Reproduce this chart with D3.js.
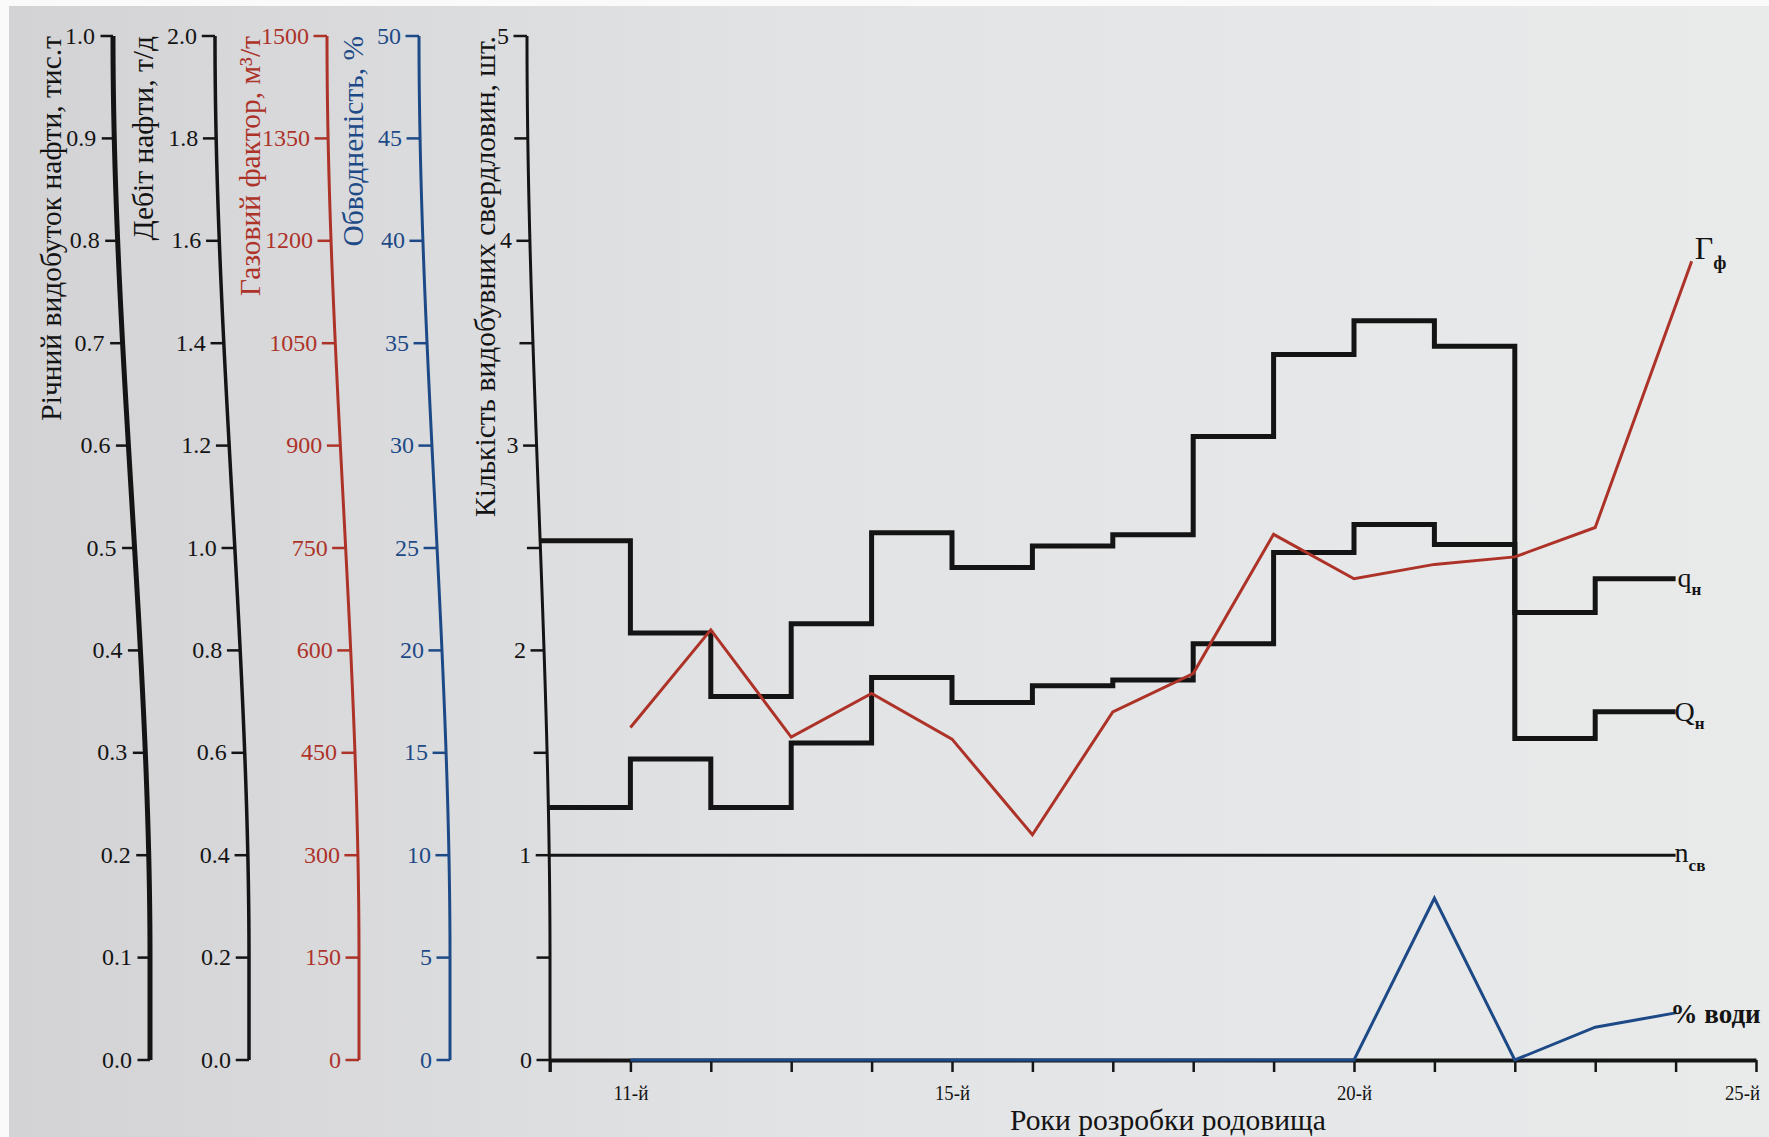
<!DOCTYPE html>
<html>
<head>
<meta charset="utf-8">
<script src="https://cdn.jsdelivr.net/npm/d3@7"></script>
<style>
    html, body { margin: 0; padding: 0; background: #fff; }
    svg { display: block; }
</style>
</head>
<body>
<div id="chart"></div>
<script>
// years of development; steps run from each start year to the next one
const stepYears = [10, 11, 12, 13, 14, 15, 16, 17, 18, 19, 20, 21, 22, 23, 24];
// annual oil production, тис.т (last value repeated to close the final step)
const oilAnnual = [0.507, 0.417, 0.355, 0.426, 0.515, 0.481, 0.502, 0.513, 0.609, 0.689, 0.722, 0.697, 0.314, 0.340, 0.340];
// oil rate, т/д
const oilRate = [0.493, 0.588, 0.493, 0.619, 0.747, 0.698, 0.731, 0.742, 0.813, 0.991, 1.046, 1.007, 0.874, 0.940, 0.940];
// gas factor, м3/т
const gasYears = [11, 12, 13, 14, 15, 16, 17, 18, 19, 20, 21, 22, 23, 24.2];
const gasFactor = [487, 630, 473, 537, 470, 330, 510, 566, 770, 705, 726, 737, 780, 1170];
// water cut, %
const waterYears = [11, 12, 13, 14, 15, 16, 17, 18, 19, 20, 21, 22, 23, 24];
const waterCut = [0, 0, 0, 0, 0, 0, 0, 0, 0, 0, 7.9, 0, 1.6, 2.3];
// number of producing wells
const wellYears = [10, 24];
const wellCount = [1, 1];

// tick labels
const annualTicks = [0, 0.1, 0.2, 0.3, 0.4, 0.5, 0.6, 0.7, 0.8, 0.9, 1.0];
const rateTicks = [0, 0.2, 0.4, 0.6, 0.8, 1.0, 1.2, 1.4, 1.6, 1.8, 2.0];
const gasTicks = [0, 150, 300, 450, 600, 750, 900, 1050, 1200, 1350, 1500];
const waterTicks = [0, 5, 10, 15, 20, 25, 30, 35, 40, 45, 50];
const wellTicks = [0, 0.5, 1, 1.5, 2, 2.5, 3, 3.5, 4, 4.5, 5];
const yearTicks = [10, 11, 12, 13, 14, 15, 16, 17, 18, 19, 20, 21, 22, 23, 24, 25];
const labelledYears = [11, 15, 20, 25];

const W = 1769, H = 1137;
const yTop = 36, yBottom = 1060;
const RED = '#ad3329', BLUE = '#1d4a86', INK = '#141414';
const SERIF = '"Liberation Serif", "DejaVu Serif", serif';

const x = d3.scaleLinear([10, 25], [550, 1756]);
const yAnnual = d3.scaleLinear([0, 1], [yBottom, yTop]);
const yRate = d3.scaleLinear([0, 2], [yBottom, yTop]);
const yGas = d3.scaleLinear([0, 1500], [yBottom, yTop]);
const yWater = d3.scaleLinear([0, 50], [yBottom, yTop]);
const yWells = d3.scaleLinear([0, 5], [yBottom, yTop]);

// the printed axes are bent (photo of a page), x0 at top, x1 at bottom
const axes = [
    {scale: yAnnual, ticks: annualTicks, fmt: d3.format('.1f'), x0: 113, x1: 150, color: INK, width: 5,
        title: 'Річний видобуток нафти, тис.т', titleX: 51},
    {scale: yRate, ticks: rateTicks, fmt: d3.format('.1f'), x0: 215, x1: 249, color: INK, width: 3.5,
        title: 'Дебіт нафти, т/д', titleX: 143},
    {scale: yGas, ticks: gasTicks, fmt: d3.format('d'), x0: 327, x1: 359, color: RED, width: 3,
        title: 'Газовий фактор, м³/т', titleX: 250},
    {scale: yWater, ticks: waterTicks, fmt: d3.format('d'), x0: 419, x1: 450, color: BLUE, width: 3,
        title: 'Обводненість, %', titleX: 353},
    {scale: yWells, ticks: wellTicks, fmt: d => Number.isInteger(d) ? d : '', x0: 527, x1: 550, color: INK, width: 3,
        title: 'Кількість видобувних свердловин, шт.', titleX: 485, extend: 12}
];

function axisX(a, y) {
    let t = (y - yTop) / (yBottom - yTop);
    let s = Math.max(0, Math.min(1, t / 0.9));
    return a.x0 + (a.x1 - a.x0) * (3 * s * s - 2 * s * s * s);
}

let svg = d3.select('#chart')
    .append('svg')
    .attr('width', W)
    .attr('height', H);

// paper background
let grad = svg.append('defs').append('linearGradient')
    .attr('id', 'paper')
    .attr('x1', 0).attr('x2', 1).attr('y1', 0).attr('y2', 0);
grad.append('stop').attr('offset', 0).attr('stop-color', '#d3d3d6');
grad.append('stop').attr('offset', 0.45).attr('stop-color', '#e2e3e5');
grad.append('stop').attr('offset', 1).attr('stop-color', '#e9ebeb');
svg.append('rect').attr('width', W).attr('height', H).attr('fill', '#fafafa');
svg.append('rect').attr('x', 9).attr('y', 6).attr('width', W - 9).attr('height', H - 6)
    .attr('fill', 'url(#paper)');

// vertical axes
axes.forEach(a => {
    let g = svg.append('g').attr('class', 'axis');
    g.call(d3.axisLeft(a.scale)
        .tickValues(a.ticks)
        .tickFormat(a.fmt)
        .tickSize(14)
        .tickSizeOuter(0)
        .tickPadding(4));
    let samples = d3.range(yTop, yBottom + (a.extend || 0) + 1, 4);
    g.select('.domain')
        .attr('d', d3.line().x(y => axisX(a, y)).y(y => y)(samples))
        .attr('fill', 'none')
        .attr('stroke', a.color)
        .attr('stroke-width', a.width);
    g.selectAll('.tick')
        .attr('transform', d => `translate(${axisX(a, a.scale(d))},${a.scale(d)})`);
    g.selectAll('.tick line')
        .attr('stroke', a.color)
        .attr('stroke-width', 2.5)
        .attr('x2', -14 + a.width / 2 - 1);
    g.selectAll('.tick text')
        .attr('fill', a.color)
        .style('font-family', SERIF)
        .style('font-size', '24px');

    svg.append('text')
        .attr('transform', `translate(${a.titleX},${yTop}) rotate(-90)`)
        .attr('dy', '0.35em')
        .attr('text-anchor', 'end')
        .attr('fill', a.color)
        .style('font-family', SERIF)
        .style('font-size', '29.5px')
        .text(a.title);
});

// x axis
let gx = svg.append('g')
    .attr('transform', `translate(0,${yBottom})`)
    .call(d3.axisBottom(x)
        .tickValues(yearTicks)
        .tickFormat(d => labelledYears.includes(d) ? `${d}-й` : '')
        .tickSize(12)
        .tickSizeOuter(0)
        .tickPadding(14));
gx.select('.domain').attr('stroke', INK).attr('stroke-width', 4);
gx.selectAll('.tick line').attr('stroke', INK).attr('stroke-width', 2.5);
gx.selectAll('.tick text')
    .attr('fill', INK)
    .attr('x', d => d === 25 ? -14 : 0)
    .attr('textLength', 35)
    .attr('lengthAdjust', 'spacingAndGlyphs')
    .style('font-family', SERIF)
    .style('font-size', '20px');

svg.append('text')
    .attr('x', 1168)
    .attr('y', 1130)
    .attr('text-anchor', 'middle')
    .attr('textLength', 316)
    .attr('lengthAdjust', 'spacingAndGlyphs')
    .attr('fill', INK)
    .style('font-family', SERIF)
    .style('font-size', '30px')
    .text('Роки розробки родовища');

// series
const wellsAxis = axes[4];
function stepPath(scale, values) {
    return d3.line()
        .x((d, i) => i === 0 ? Math.min(x(d), axisX(wellsAxis, scale(values[i]))) : x(d))
        .y((d, i) => scale(values[i]))
        .curve(d3.curveStepAfter)(stepYears);
}

let plot = svg.append('g').attr('fill', 'none');

plot.append('path')
    .attr('d', d3.line()
        .x((d, i) => i === 0 ? axisX(wellsAxis, yWells(wellCount[i])) : x(d))
        .y((d, i) => yWells(wellCount[i]))(wellYears))
    .attr('stroke', INK)
    .attr('stroke-width', 3);

plot.append('path')
    .attr('d', stepPath(yAnnual, oilAnnual))
    .attr('stroke', INK)
    .attr('stroke-width', 5);

plot.append('path')
    .attr('d', stepPath(yRate, oilRate))
    .attr('stroke', INK)
    .attr('stroke-width', 5);

plot.append('path')
    .attr('d', d3.line().x(d => x(d)).y((d, i) => yWater(waterCut[i]))(waterYears))
    .attr('stroke', BLUE)
    .attr('stroke-width', 3);

plot.append('path')
    .attr('d', d3.line().x(d => x(d)).y((d, i) => yGas(gasFactor[i]))(gasYears))
    .attr('stroke', RED)
    .attr('stroke-width', 3);

// series labels at line ends
function seriesLabel(px, py, main, sub, size) {
    let t = svg.append('text')
        .attr('x', px)
        .attr('y', py)
        .attr('fill', INK)
        .style('font-family', SERIF)
        .style('font-size', size + 'px');
    t.append('tspan').text(main);
    if (sub) {
        t.append('tspan')
            .attr('dy', size * 0.3)
            .style('font-size', Math.round(size * 0.6) + 'px')
            .style('font-weight', 'bold')
            .text(sub);
    }
}
let lastGas = gasFactor.length - 1;
seriesLabel(x(gasYears[lastGas]) + 3, yGas(gasFactor[lastGas]) - 2, 'Г', 'ф', 32);
seriesLabel(x(24) + 2, yRate(oilRate[oilRate.length - 1]) + 8, 'q', 'н', 28);
seriesLabel(x(24) - 1, yAnnual(oilAnnual[oilAnnual.length - 1]) + 9, 'Q', 'н', 28);
seriesLabel(x(wellYears[1]) - 1, yWells(wellCount[1]) + 7, 'n', 'св', 28);
svg.append('text')
    .attr('x', x(waterYears[waterYears.length - 1]) - 5)
    .attr('y', yWater(waterCut[waterCut.length - 1]) + 10)
    .attr('fill', INK)
    .style('font-family', SERIF)
    .style('font-size', '27px')
    .style('font-weight', 'bold')
    .text('% води');
</script>
</body>
</html>
